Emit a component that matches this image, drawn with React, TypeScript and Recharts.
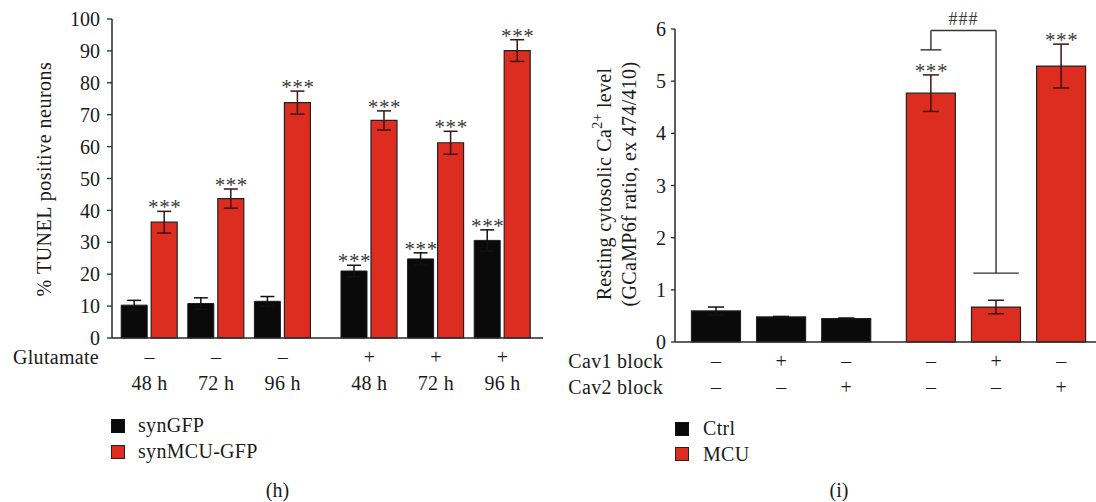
import React from 'react';
import { BarChart, Bar, XAxis, YAxis, ErrorBar, LabelList, ReferenceLine, Cell } from 'recharts';

const FONT = '"Liberation Serif", "Times New Roman", serif';
const RED = '#dc2d20';
const BLACK = '#0a0a0a';
const AXIS = '#2a2a2a';
const TXT = '#1a1a1a';
const FS = 20;

// ---------- Panel (h) ----------
const hPositions = [1, 2, 3, 4.3, 5.3, 6.3];
const hTimes = ['48 h', '72 h', '96 h', '48 h', '72 h', '96 h'];
const hGlutamate = ['–', '–', '–', '+', '+', '+'];
const synGFP = [10.3, 10.8, 11.5, 21.0, 24.8, 30.6];
const synGFPErr = [1.5, 1.8, 1.5, 1.8, 1.9, 3.3];
const synGFPSig = ['', '', '', '***', '***', '***'];
const synMCU = [36.3, 43.7, 73.8, 68.2, 61.2, 90.1];
const synMCUErr = [3.4, 3.0, 3.6, 3.0, 3.6, 3.4];
const synMCUSig = ['***', '***', '***', '***', '***', '***'];
const hYTicks = [0, 10, 20, 30, 40, 50, 60, 70, 80, 90, 100];

// ---------- Panel (i) ----------
const iPositions = [1, 2, 3, 4.3, 5.3, 6.3];
const iCav1 = ['–', '+', '–', '–', '+', '–'];
const iCav2 = ['–', '–', '+', '–', '–', '+'];
const iGroup = ['Ctrl', 'Ctrl', 'Ctrl', 'MCU', 'MCU', 'MCU'];
const iValues = [0.595, 0.48, 0.45, 4.77, 0.67, 5.29];
const iErr = [0.075, 0.01, 0.01, 0.35, 0.13, 0.42];
const iSig = ['', '', '', '***', '', '***'];
const iYTicks = [0, 1, 2, 3, 4, 5, 6];
const bracketTop = 5.97;
const bracketLeftEnd = 5.6;
const bracketRightEnd = 1.32;

const hData = hPositions.map((pos, i) => ({
  pos,
  gfp: synGFP[i],
  gfpErr: synGFPErr[i],
  gfpSig: synGFPSig[i],
  mcu: synMCU[i],
  mcuErr: synMCUErr[i],
  mcuSig: synMCUSig[i],
}));

const iData = iPositions.map((pos, i) => ({
  pos,
  val: iValues[i],
  errCtrl: iGroup[i] === 'Ctrl' ? iErr[i] : null,
  errMcu: iGroup[i] === 'MCU' ? iErr[i] : null,
  sig: iSig[i],
}));

const makeStars = (vals: number[], errs: number[]) => (props: any) => {
  const vb = props.viewBox && props.viewBox.width != null ? props.viewBox : props;
  const x = Number(vb.x);
  const y = Number(vb.y);
  const w = Number(vb.width);
  const h = Number(vb.height);
  const idx = props.index;
  const value = props.value;
  if (!value || idx == null) return null;
  const top = y - (errs[idx] * h) / vals[idx];
  return (
    <text x={x + w / 2 + 0.5} y={top + 3} textAnchor="middle" fontFamily={FONT} fontSize={21} letterSpacing={0.6} fill="#3a3a3a">
      {value}
    </text>
  );
};

const HTick = (props: any) => {
  const { x, y, payload } = props;
  let i = hPositions.indexOf(payload.value);
  if (i < 0) i = props.index;
  return (
    <g fontFamily={FONT} fontSize={FS} fill={TXT}>
      {i === 0 && (
        <text x={99} y={y + 26} textAnchor="end" letterSpacing={0.3}>
          Glutamate
        </text>
      )}
      <text x={x} y={y + 26} textAnchor="middle">{hGlutamate[i]}</text>
      <text x={x} y={y + 51.5} textAnchor="middle" letterSpacing={0.3}>{hTimes[i]}</text>
    </g>
  );
};

const ITick = (props: any) => {
  const { x, y, payload } = props;
  let i = iPositions.indexOf(payload.value);
  if (i < 0) i = props.index;
  return (
    <g fontFamily={FONT} fontSize={FS} fill={TXT}>
      {i === 0 && (
        <>
          <text x={103} y={y + 26} textAnchor="end" letterSpacing={0.3}>Cav1 block</text>
          <text x={103} y={y + 52} textAnchor="end" letterSpacing={0.3}>Cav2 block</text>
        </>
      )}
      <text x={x} y={y + 26} textAnchor="middle">{iCav1[i]}</text>
      <text x={x} y={y + 52} textAnchor="middle">{iCav2[i]}</text>
    </g>
  );
};

const yTick = { fontFamily: FONT, fontSize: FS, fill: TXT };
const lineStyle = { stroke: '#333', strokeWidth: 1.4 };

export default function App() {
  return (
    <div style={{ position: 'absolute', left: 0, top: 0, width: 1096, height: 502, background: '#fff' }}>
      <div style={{ position: 'absolute', left: 0, top: 0 }}>
        <BarChart width={560} height={400} data={hData} margin={{ top: 19, right: 17, bottom: 2, left: 0 }} barGap={4} barSize={26}>
          <XAxis
            dataKey="pos"
            type="number"
            domain={[0.437, 6.908]}
            ticks={hPositions}
            interval={0}
            tickSize={0}
            tickMargin={0}
            tickLine={false}
            axisLine={{ stroke: AXIS, strokeWidth: 1.5 }}
            height={60}
            tick={<HTick />}
            allowDataOverflow
          />
          <YAxis
            domain={[0, 100]}
            ticks={hYTicks}
            interval={0}
            width={112}
            tickSize={5}
            tickMargin={7}
            axisLine={{ stroke: AXIS, strokeWidth: 1.5 }}
            tickLine={{ stroke: AXIS, strokeWidth: 1.3 }}
            tick={yTick}
          />
          <Bar dataKey="gfp" fill={BLACK} stroke="#1a1a1a" strokeWidth={1} isAnimationActive={false}>
            <ErrorBar dataKey="gfpErr" width={7} stroke="#111" strokeWidth={1.5} />
            <LabelList dataKey="gfpSig" content={makeStars(synGFP, synGFPErr)} />
          </Bar>
          <Bar dataKey="mcu" fill={RED} stroke="#222" strokeWidth={1.2} isAnimationActive={false}>
            <ErrorBar dataKey="mcuErr" width={7} stroke="#3c1414" strokeWidth={1.5} />
            <LabelList dataKey="mcuSig" content={makeStars(synMCU, synMCUErr)} />
          </Bar>
        </BarChart>
      </div>

      <div style={{ position: 'absolute', left: 560, top: 0 }}>
        <BarChart width={536} height={400} data={iData} margin={{ top: 29, right: 0, bottom: 2, left: 0 }} barSize={49}>
          <XAxis
            dataKey="pos"
            type="number"
            domain={[0.37, 6.835]}
            ticks={iPositions}
            interval={0}
            tickSize={0}
            tickMargin={0}
            tickLine={false}
            axisLine={{ stroke: AXIS, strokeWidth: 1.5 }}
            height={56}
            tick={<ITick />}
            allowDataOverflow
          />
          <YAxis
            domain={[0, 6]}
            ticks={iYTicks}
            interval={0}
            width={115}
            tickSize={4}
            tickMargin={5}
            axisLine={{ stroke: AXIS, strokeWidth: 1.5 }}
            tickLine={{ stroke: AXIS, strokeWidth: 1.3 }}
            tick={yTick}
          />
          <Bar dataKey="val" stroke="#222" strokeWidth={1.2} isAnimationActive={false}>
            {iData.map((d, i) => (
              <Cell key={i} fill={iGroup[i] === 'Ctrl' ? BLACK : RED} />
            ))}
            <ErrorBar dataKey="errCtrl" width={8} stroke="#111" strokeWidth={1.5} />
            <ErrorBar dataKey="errMcu" width={8} stroke="#3c1414" strokeWidth={1.5} />
            <LabelList dataKey="sig" content={makeStars(iValues, iErr)} />
          </Bar>
          <ReferenceLine segment={[{ x: 4.3 - 0.16, y: bracketLeftEnd }, { x: 4.3 + 0.16, y: bracketLeftEnd }]} {...lineStyle} />
          <ReferenceLine segment={[{ x: 4.3, y: bracketLeftEnd }, { x: 4.3, y: bracketTop }]} {...lineStyle} />
          <ReferenceLine
            segment={[{ x: 4.3, y: bracketTop }, { x: 5.3, y: bracketTop }]}
            {...lineStyle}
            label={{ value: '###', position: 'top', offset: 6, fontFamily: FONT, fontSize: 18, letterSpacing: 1, fill: '#3a3a3a' }}
          />
          <ReferenceLine segment={[{ x: 5.3, y: bracketTop }, { x: 5.3, y: bracketRightEnd }]} {...lineStyle} />
          <ReferenceLine segment={[{ x: 5.3 - 0.35, y: bracketRightEnd }, { x: 5.3 + 0.35, y: bracketRightEnd }]} {...lineStyle} />
        </BarChart>
      </div>

      <svg width={1096} height={502} style={{ position: 'absolute', left: 0, top: 0, pointerEvents: 'none' }} fontFamily={FONT} fontSize={FS} fill={TXT}>
        <text x={43.5} y={179} transform="rotate(-90, 43.5, 179)" textAnchor="middle" dominantBaseline="central" letterSpacing={0.5}>
          % TUNEL positive neurons
        </text>
        <text x={604} y={184} transform="rotate(-90, 604, 184)" textAnchor="middle" dominantBaseline="central" letterSpacing={0.3}>
          Resting cytosolic Ca<tspan fontSize={14} dy={-7}>2+</tspan>
          <tspan dy={7}> level</tspan>
        </text>
        <text x={629} y={184} transform="rotate(-90, 629, 184)" textAnchor="middle" dominantBaseline="central" letterSpacing={0.3}>
          (GCaMP6f ratio, ex 474/410)
        </text>

        <rect x={111.5} y={419.5} width={13} height={13} fill={BLACK} stroke="#111" />
        <text x={138} y={432} letterSpacing={0.3}>synGFP</text>
        <rect x={111.5} y={445.5} width={13} height={13} fill={RED} stroke="#222" />
        <text x={138} y={458} letterSpacing={0.3}>synMCU-GFP</text>

        <rect x={675.5} y={422.5} width={13} height={13} fill={BLACK} stroke="#111" />
        <text x={703} y={435} letterSpacing={0.3}>Ctrl</text>
        <rect x={675.5} y={447.5} width={13} height={13} fill={RED} stroke="#222" />
        <text x={703} y={461} letterSpacing={0.3}>MCU</text>

        <text x={277.5} y={497} textAnchor="middle">(h)</text>
        <text x={839} y={497} textAnchor="middle">(i)</text>
      </svg>
    </div>
  );
}
